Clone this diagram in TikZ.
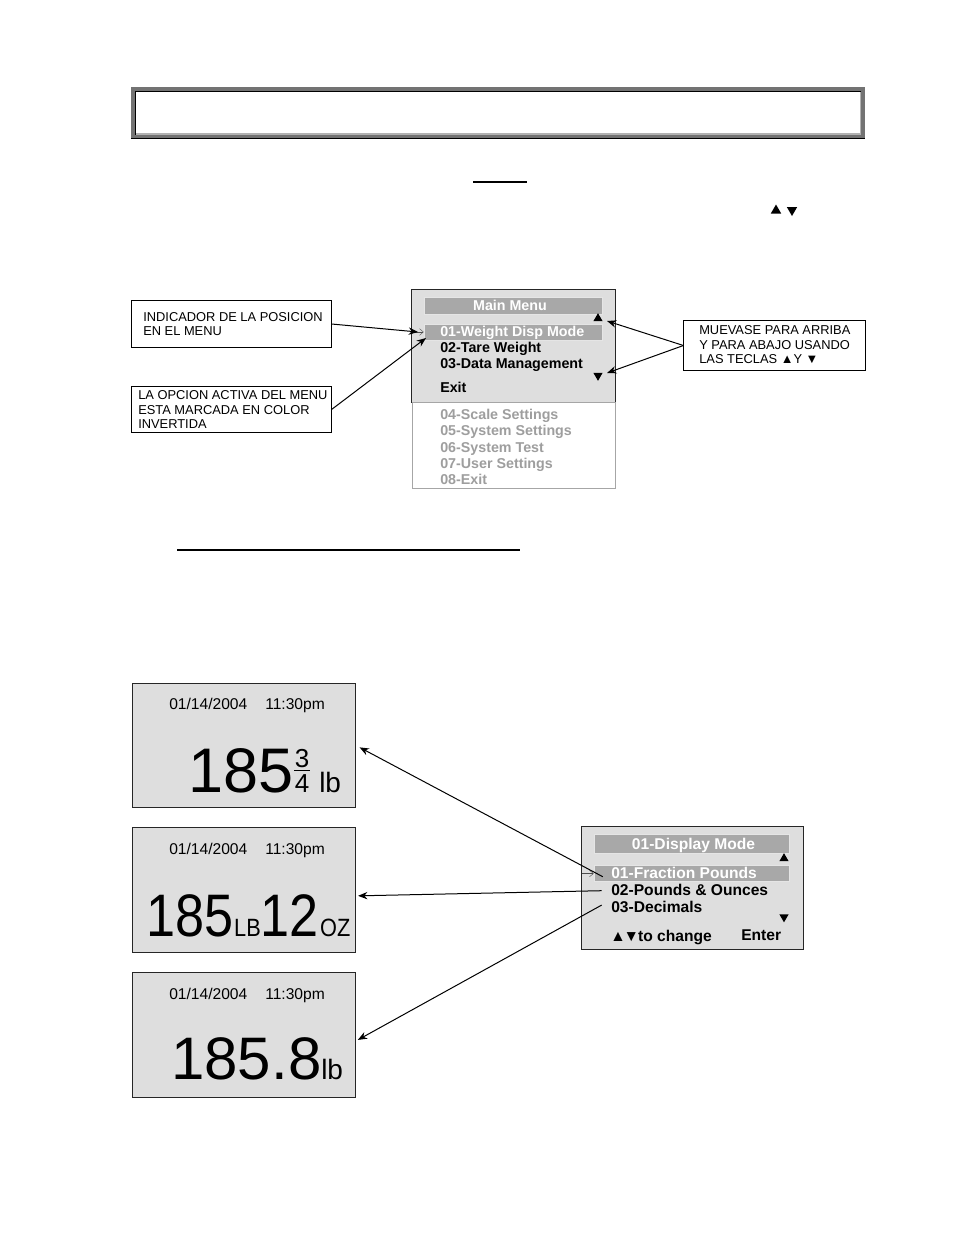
\documentclass[tikz,border=0pt]{standalone}
\usepackage{fontspec}
\setmainfont{Liberation Sans}
\usetikzlibrary{shapes.geometric,arrows.meta}
\definecolor{lcdgray}{gray}{0.87}
\definecolor{bargray}{gray}{0.66}
\definecolor{fadegray}{gray}{0.62}
\newcommand{\px}[1]{\fontsize{#1}{#1}\selectfont}
\tikzset{
  notebox/.style={shape=rectangle,draw=black,line width=0.6pt,fill=white,inner sep=0pt},
  screenbox/.style={shape=rectangle,draw=black!85,line width=0.6pt,fill=lcdgray,inner sep=0pt,minimum width=167.5pt,minimum height=93.25pt},
  menubox/.style={shape=rectangle,draw=black!85,line width=0.6pt,fill=lcdgray,inner sep=0pt},
  bar/.style={shape=rectangle,fill=bargray,draw=white!70!bargray,line width=0.4pt,inner sep=0pt},
  txt/.style={anchor=west,inner sep=0pt,text height=8pt,text depth=2pt,font=\px{9.65}},
  item/.style={anchor=west,inner sep=0pt,text height=9pt,text depth=2pt,font=\px{10.7}\bfseries},
  faded/.style={item,text=fadegray},
  bartxt/.style={item,text=white},
  moditem/.style={item,font=\px{11.7}\bfseries},
  stamp/.style={anchor=west,inner sep=0pt,text height=9pt,text depth=2pt,font=\px{11.7}},
  tri/.style={shape=regular polygon,regular polygon sides=3,fill=black,inner sep=0pt,minimum size=9pt},
  tridown/.style={tri,shape border rotate=180},
  call/.style={-{Stealth[length=7pt,width=5.5pt]},line width=0.75pt},
  pointer/.style={-{Straight Barb[length=3pt,width=5pt]},line width=0.3pt,draw=black!70}
}
\begin{document}
\begin{tikzpicture}[x=0.75pt,y=-0.75pt]
    \useasboundingbox (0,0) rectangle (954,1235);
    \fill[white] (0,0) rectangle (954,1235);
    \fill[black] (131,87) rectangle (865,139);
    \fill[black!55] (131,87) rectangle (865,138);
    \fill[black] (135,91) rectangle (861,135);
    \fill[black!30] (136,92) rectangle (861,135);
    \fill[white] (136,92) rectangle (860,133);
    \draw[line width=1.5pt] (473,182) -- (527,182);
    \draw[line width=1pt] (177,550) -- (520,550);
    \node[tri,minimum size=9pt] (keyup) at (776,210.5) {};
    \node[tridown,minimum size=9pt] (keydown) at (792,210) {};

    \node[menubox,minimum width=152.5pt,minimum height=84.75pt] (mainmenu) at (513.5,345.5) {};
    \node[shape=rectangle,draw=black!35,line width=0.5pt,inner sep=0pt,minimum width=152.5pt,minimum height=64.5pt] (moremenu) at (513.5,445) {};
    \node[bar,minimum width=133.5pt,minimum height=13pt] (maintitle) at (513,305.5) {};
    \node[bar,minimum width=133.5pt,minimum height=12pt] (mainbar) at (513,332) {};
    \node[item,anchor=center,text=white] (maintxt) at (510,305.5) {Main Menu};
    \node[bartxt] (weight) at (440,331.5) {01-Weight Disp Mode};
    \node[item] (tare) at (440,348) {02-Tare Weight};
    \node[item] (data) at (440,364) {03-Data Management};
    \node[item] (mainexit) at (440,388) {Exit};
    \node[faded] (scale) at (440,415) {04-Scale Settings};
    \node[faded] (system) at (440,431) {05-System Settings};
    \node[faded] (systest) at (440,447.5) {06-System Test};
    \node[faded] (user) at (440,463.5) {07-User Settings};
    \node[faded] (fexit) at (440,480) {08-Exit};
    \node[tri,minimum size=8pt] (mainup) at (598,318.5) {};
    \node[tridown,minimum size=8pt] (maindown) at (598,375.5) {};
    \coordinate (ptrmain) at (414,332);
    \draw[pointer] (ptrmain) -- (mainbar.west);

    \node[notebox,minimum width=149.5pt,minimum height=35.5pt] (notepos) at (231.5,324) {};
    \node[notebox,minimum width=149.5pt,minimum height=35pt] (noteact) at (231.5,409.5) {};
    \node[notebox,minimum width=136pt,minimum height=38pt] (notekeys) at (774.5,345.5) {};
    \node[txt] at (143,317) {INDICADOR DE LA POSICION};
    \node[txt] at (143,331) {EN EL MENU};
    \node[txt] at (138,395.5) {LA OPCION ACTIVA DEL MENU};
    \node[txt] at (138,410) {ESTA MARCADA EN COLOR};
    \node[txt] at (138,424.5) {INVERTIDA};
    \node[txt] at (699,330.5) {MUEVASE PARA ARRIBA};
    \node[txt] at (699,345) {Y PARA ABAJO USANDO};
    \node[txt] at (699,359.5) {LAS TECLAS ▲Y ▼};
    \coordinate (ptrup) at (607,321);
    \coordinate (ptrdown) at (607,373);
    \coordinate (ptrpos) at (418,332);
    \coordinate (ptract) at (426,338);
    \draw[call] (notepos.east) -- (ptrpos);
    \draw[call] (noteact.east) -- (ptract);
    \draw[call] (notekeys.west) -- (ptrup);
    \draw[call] (notekeys.west) -- (ptrdown);

    \node[screenbox] (frac) at (244,745.5) {};
    \node[screenbox] (pounds) at (244,890) {};
    \node[screenbox] (decim) at (244,1035) {};
    \node[stamp] at (169,705) {01/14/2004};
    \node[stamp] at (265,705) {11:30pm};
    \node[stamp] at (169,850) {01/14/2004};
    \node[stamp] at (265,850) {11:30pm};
    \node[stamp] at (169,995) {01/14/2004};
    \node[stamp] at (265,995) {11:30pm};
    \node[anchor=base west,inner sep=0pt,font=\px{47.25}] (fracnum) at (188,792) {185};
    \node[anchor=base,inner sep=0pt,font=\px{19.5}] (fracup) at (302,767) {3};
    \draw[line width=0.9pt] (294,770.5) -- (310,770.5);
    \node[anchor=base,inner sep=0pt,font=\px{19.5}] (fracdn) at (302,792) {4};
    \node[anchor=base west,inner sep=0pt,font=\px{21}] (fraclb) at (319,792) {lb};
    \node[anchor=base west,inner sep=0pt,font=\px{45},xscale=.87] (lbnum) at (146,936) {185};
    \node[anchor=base west,inner sep=0pt,font=\px{18.75},xscale=.87] (lbunit) at (234,936) {LB};
    \node[anchor=base west,inner sep=0pt,font=\px{45},xscale=.87] (oznum) at (260,936) {12};
    \node[anchor=base west,inner sep=0pt,font=\px{18.75},xscale=.87] (ozunit) at (320,936) {OZ};
    \node[anchor=base west,inner sep=0pt,font=\px{45}] (decnum) at (171,1079) {185.8};
    \node[anchor=base west,inner sep=0pt,font=\px{21}] (declb) at (321,1079) {lb};

    \node[menubox,minimum width=167pt,minimum height=92.5pt] (modemenu) at (692.5,888) {};
    \node[bar,minimum width=146.25pt,minimum height=14pt] (modetitle) at (691.5,844) {};
    \node[bar,minimum width=146.25pt,minimum height=12pt] (modebar) at (691.5,873.5) {};
    \node[moditem,anchor=center,text=white] (modetxt) at (693.5,844.5) {01-Display Mode};
    \node[moditem,text=white] (frpounds) at (611,873.5) {01-Fraction Pounds};
    \node[moditem] (ounces) at (611,890.5) {02-Pounds \& Ounces};
    \node[moditem] (decimals) at (611,907.5) {03-Decimals};
    \node[moditem] (change) at (610,936.5) {▲\hspace{-1.5pt}▼\hspace{-4pt} to change};
    \node[moditem] (enter) at (741,935.5) {Enter};
    \node[tri,minimum size=8pt] (modeup) at (784,858.5) {};
    \node[tridown,minimum size=8pt] (modedown) at (784,917) {};
    \coordinate (ptrmode) at (582,873.5);
    \draw[pointer] (ptrmode) -- (modebar.west);
    \draw[call,shorten <=7pt,shorten >=3pt] (frpounds.south west) -- (frac.east);
    \draw[call,shorten <=7pt,shorten >=1.5pt] (ounces.west) -- (pounds.-3);
    \draw[call,shorten <=8pt,shorten >=1.5pt] (decimals.north west) -- (decim.-3);
\end{tikzpicture}
\end{document}
